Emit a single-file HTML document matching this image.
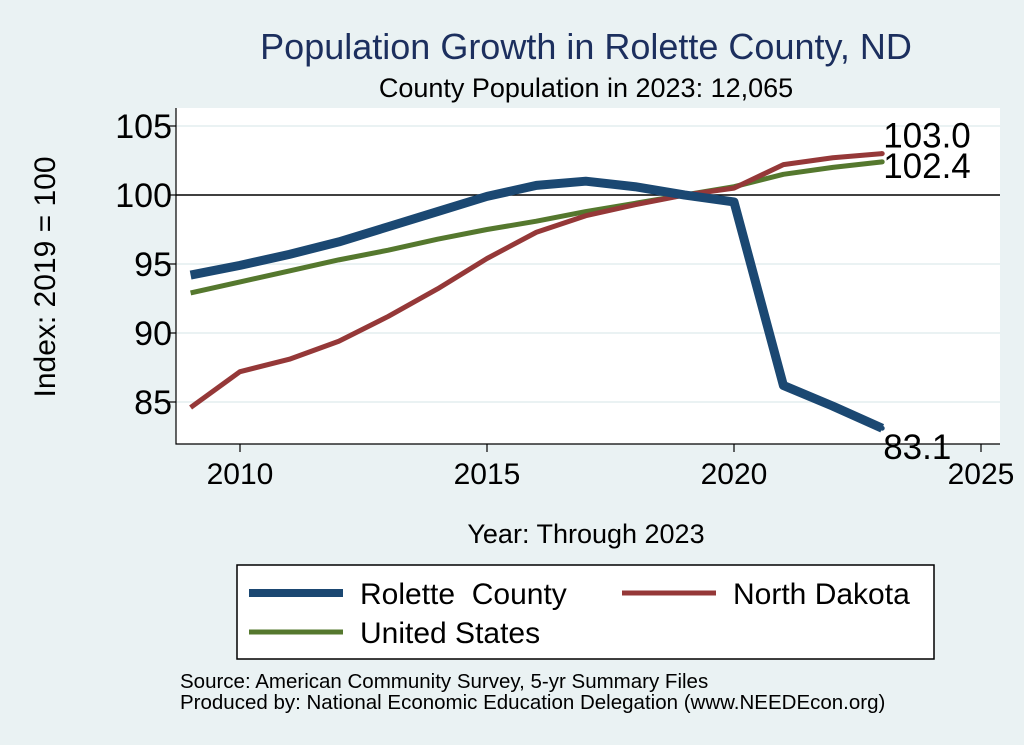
<!DOCTYPE html>
<html><head><meta charset="utf-8"><style>
body{margin:0;background:#eaf2f3;}
svg{display:block;font-family:"Liberation Sans",sans-serif;}
</style></head><body>
<svg id="c" width="1024" height="745">
<rect x="0" y="0" width="1024" height="745" fill="#eaf2f3"/>
<rect x="176" y="108" width="824" height="336" fill="#fff"/>
<text x="586" y="59" font-size="36" fill="#1c2f5e" text-anchor="middle">Population Growth in Rolette County, ND</text>
<text x="586" y="97" font-size="27" fill="#000" text-anchor="middle">County Population in 2023: 12,065</text>
<text transform="translate(55,277) rotate(-90)" font-size="30" text-anchor="middle">Index: 2019 = 100</text>
<text x="586" y="543" font-size="27" text-anchor="middle">Year: Through 2023</text>
<g id="grid"></g><g id="axes"></g><g id="series"></g>
<rect x="237" y="565" width="697" height="94" fill="#fff" stroke="#000" stroke-width="1.5"/>
<g><line x1="249" y1="593" x2="343" y2="593" stroke="#1b4872" stroke-width="8"/><text x="360" y="604" font-size="30">Rolette&#160; County</text></g>
<g><line x1="622" y1="593" x2="716" y2="593" stroke="#953838" stroke-width="5"/><text x="733" y="604" font-size="30">North Dakota</text></g>
<g><line x1="249" y1="632" x2="343" y2="632" stroke="#55782e" stroke-width="5"/><text x="360" y="643" font-size="30">United States</text></g>
<text x="180" y="688" font-size="20.5">Source: American Community Survey, 5-yr Summary Files</text>
<text x="180" y="709" font-size="20.5">Produced by: National Economic Education Delegation (www.NEEDEcon.org)</text>
</svg>
<script>
const years=[2009,2010,2011,2012,2013,2014,2015,2016,2017,2018,2019,2020,2021,2022,2023];
const rolette=[94.2,94.9,95.7,96.6,97.7,98.8,99.9,100.7,101.0,100.6,100.0,99.5,86.2,84.7,83.1];
const northDakota=[84.6,87.2,88.1,89.4,91.2,93.2,95.4,97.3,98.5,99.3,100.0,100.5,102.2,102.7,103.0];
const unitedStates=[92.9,93.7,94.5,95.3,96.0,96.8,97.5,98.1,98.8,99.4,100.0,100.6,101.5,102.0,102.4];
const xTicks=[2010,2015,2020,2025];
const yTicks=[85,90,95,100,105];
const NS="http://www.w3.org/2000/svg";
const X=v=>240+(v-2010)*49.4;
const Y=v=>195-(v-100)*13.8;
function mk(p,t,a){const e=document.createElementNS(NS,t);for(const k in a)e.setAttribute(k,a[k]);document.getElementById(p).appendChild(e);return e;}
yTicks.forEach(t=>{
 const g=mk('grid','line',{x1:176,x2:1000,y1:Y(t),y2:Y(t),stroke:t===100?'#000':'#eaf2f3','stroke-width':t===100?1.5:2});
 
 
 const tk=mk('axes','line',{x1:168,x2:176,y1:Y(t),y2:Y(t),stroke:'#000','stroke-width':1.2});
 
 
 const lb=mk('axes','text',{x:172,y:Y(t)+12,'font-size':34,'text-anchor':'end'});lb.textContent=t;
 
 
});
xTicks.forEach(t=>{
 const tk=mk('axes','line',{x1:X(t),x2:X(t),y1:444,y2:452,stroke:'#000','stroke-width':1.2});
 
 
 const lb=mk('axes','text',{x:X(t),y:484,'font-size':30,'text-anchor':'middle'});lb.textContent=t;
 
 
});
const ax=mk('axes','path',{d:'M176,108 V444 H1000',fill:'none',stroke:'#000','stroke-width':1.2});


function line(vals,col,w,name){
 const d=vals.map((v,i)=>(i?'L':'M')+X(years[i])+','+Y(v)).join(' ');
 const p=mk('series','path',{d,fill:'none',stroke:col,'stroke-width':w,'stroke-linejoin':'round'});
 
 
 const n=vals.length-1;
 const c=mk('series','circle',{cx:X(years[n]),cy:Y(vals[n]),r:2.5,fill:col});
 
 
}
line(unitedStates,'#55782e',5,'line-united-states');
line(northDakota,'#953838',5,'line-north-dakota');
line(rolette,'#1b4872',9,'line-rolette-county');
const lbls=[[northDakota,-18],[unitedStates,4],[rolette,19]];
lbls.forEach(([arr,dy])=>{
 const v=arr[arr.length-1];
 const t=mk('series','text',{x:X(2023)+1,y:Y(v)+dy+12,'font-size':35});t.textContent=v.toFixed(1);
 
 
});
</script>
</body></html>
